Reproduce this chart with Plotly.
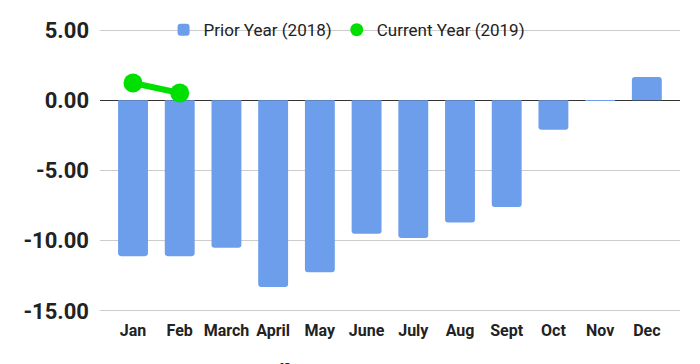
import plotly.graph_objects as go

months = ["Jan", "Feb", "March", "April", "May", "June", "July", "Aug", "Sept", "Oct", "Nov", "Dec"]
prior_year = [-11.1, -11.1, -10.5, -13.3, -12.25, -9.5, -9.8, -8.7, -7.6, -2.1, -0.05, 1.66]
current_months = ["Jan", "Feb"]
current_year = [1.23, 0.52]
y_ticks = [5, 0, -5, -10, -15]
y_tick_labels = ["5.00", "0.00", "-5.00", "-10.00", "-15.00"]
x_title = "Δ % Traffic Trend vs Δ % Monthly Trend"

green = "#00e000"
fig = go.Figure()
fig.add_trace(go.Bar(
    x=months, y=prior_year, name="Prior Year (2018)",
    marker=dict(color="#6d9eeb", line=dict(width=0)), width=0.64,
))
fig.add_trace(go.Scatter(
    x=current_months, y=current_year, name="Current Year (2019)",
    mode="lines+markers", showlegend=False,
    line=dict(color=green, width=6),
    marker=dict(color=green, size=19),
))
# legend entry (marker only, as in the reference)
fig.add_trace(go.Scatter(
    x=[None], y=[None], name="Current Year (2019)", mode="markers",
    marker=dict(color=green, size=13),
))

# the page body adds an 8px margin, so the figure is 8px smaller than the window
fig.update_layout(
    width=692, height=356,
    margin=dict(l=92, r=20, t=19.9, b=50.9, autoexpand=False),
    paper_bgcolor="white", plot_bgcolor="white",
    font=dict(family="Roboto", color="#222222"),
    barcornerradius=3,
    showlegend=True,
    legend=dict(
        orientation="h", x=0.49, xref="container", xanchor="center",
        y=(5 + 15.15) / 20.3, yanchor="middle",
        bgcolor="rgba(0,0,0,0)", font=dict(size=17, color="#222222"),
        itemwidth=30, traceorder="normal",
    ),
    xaxis=dict(
        range=[-0.707, 11.71], showgrid=False, showline=False, ticks="",
        tickfont=dict(size=16, color="#222222", family="Roboto", weight="bold"),
        ticklabelstandoff=6, fixedrange=True,
    ),
    yaxis=dict(
        range=[-15.15, 5.15], tickvals=y_ticks, ticktext=y_tick_labels,
        showgrid=True, gridcolor="#cccccc", gridwidth=1,
        zeroline=True, zerolinecolor="#333333", zerolinewidth=1,
        tickfont=dict(size=22, color="#222222", family="Roboto", weight="bold"),
        ticklabelstandoff=10, showline=False,
    ),
    annotations=[dict(
        text=x_title, xref="paper", yref="paper", x=0.452, y=-0.163,
        xanchor="center", yanchor="top", showarrow=False,
        font=dict(size=16, color="#222222", family="Roboto"),
    )],
)

fig.write_html("out.html")
